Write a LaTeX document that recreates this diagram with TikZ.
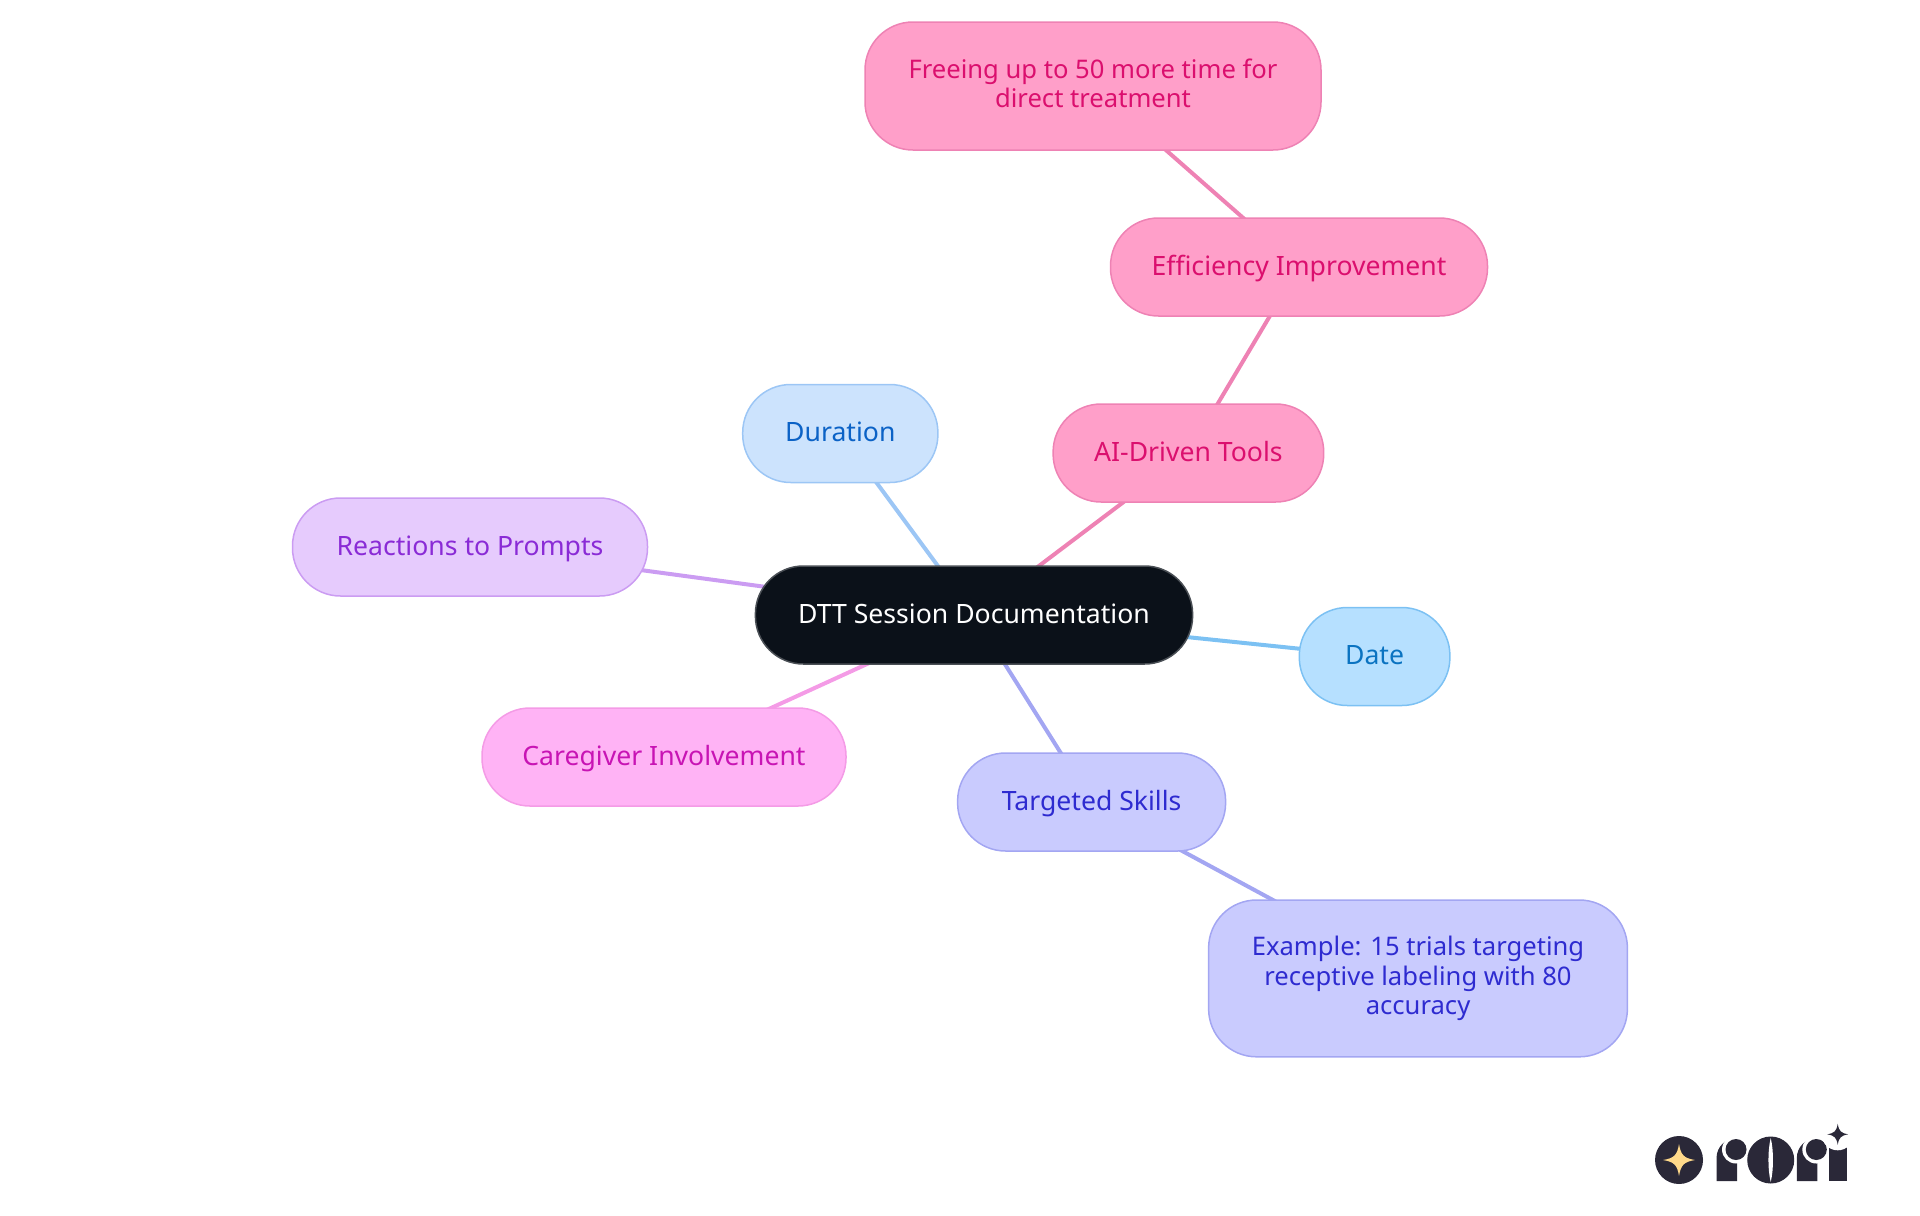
\documentclass[tikz,border=0pt]{standalone}
\usepackage{fontspec}
\setmainfont{Noto Sans}
\usetikzlibrary{backgrounds}
\definecolor{logoink}{HTML}{2A2838}
\definecolor{logostar}{HTML}{FFD98A}
\definecolor{rootfill}{HTML}{0B1119}
\definecolor{rootline}{HTML}{4A4F55}
\definecolor{pinkfill}{HTML}{FF9FC9}
\definecolor{pinkline}{HTML}{EE82B4}
\definecolor{pinktext}{HTML}{DB0F6E}
\definecolor{bluefill}{HTML}{CCE3FD}
\definecolor{blueline}{HTML}{9CC6F5}
\definecolor{bluetext}{HTML}{0B62C6}
\definecolor{skyfill}{HTML}{B6E0FF}
\definecolor{skyline}{HTML}{7CC1F3}
\definecolor{skytext}{HTML}{0A73C1}
\definecolor{purplefill}{HTML}{E6CBFD}
\definecolor{purpleline}{HTML}{CB9CF2}
\definecolor{purpletext}{HTML}{8A2BD6}
\definecolor{magentafill}{HTML}{FFB3F5}
\definecolor{magentaline}{HTML}{F49BE6}
\definecolor{magentatext}{HTML}{C814B4}
\definecolor{indigofill}{HTML}{C9CBFE}
\definecolor{indigoline}{HTML}{A3A6F2}
\definecolor{indigotext}{HTML}{2E2BD0}
\tikzset{
    mapnode/.style={draw, rounded corners=24pt, line width=0.75pt, inner sep=0pt, align=center, minimum height=49pt, text height=11pt, text depth=3pt, font=\fontsize{13.3}{14.6}\selectfont},
    longtext/.style={text height=, text depth=, font=\fontsize{12.8}{14.6}\selectfont},
    rootnode/.style={mapnode, fill=rootfill, draw=rootline, text=white},
    pinknode/.style={mapnode, fill=pinkfill, draw=pinkline, text=pinktext},
    bluenode/.style={mapnode, fill=bluefill, draw=blueline, text=bluetext},
    skynode/.style={mapnode, fill=skyfill, draw=skyline, text=skytext},
    purplenode/.style={mapnode, fill=purplefill, draw=purpleline, text=purpletext},
    magentanode/.style={mapnode, fill=magentafill, draw=magentaline, text=magentatext},
    indigonode/.style={mapnode, fill=indigofill, draw=indigoline, text=indigotext},
    link/.style={line width=2pt},
}
\newcommand{\sparkle}[3]{
    \fill [#3, shift={(#1)}, scale=#2] (0, -1) .. controls (0.12, -0.3) and (0.3, -0.12) .. (1, 0)
        .. controls (0.3, 0.12) and (0.12, 0.3) .. (0, 1)
        .. controls (-0.12, 0.3) and (-0.3, 0.12) .. (-1, 0)
        .. controls (-0.3, -0.12) and (-0.12, -0.3) .. cycle;
}
\newcommand{\logor}[1]{
    \begin{scope}[xshift=#1*0.5pt]
        \fill [logoink] (1716.5, 1181) -- (1716.5, 1158) arc (180:270:20) -- (1737, 1138) -- (1737, 1181) -- cycle;
        \fill [white] (1736, 1149.5) circle (14);
        \fill [logoink] (1736, 1149.5) circle (10.5);
    \end{scope}
}

\begin{document}
\begin{tikzpicture}[x=0.5pt, y=-0.5pt]
    \useasboundingbox (0, 0) rectangle (1920, 1215);

    \node [rootnode, minimum width=218.6pt] (root) at (974, 615) {DTT Session Documentation};
    \node [pinknode, minimum width=135.3pt] (tools) at (1188.4, 453) {AI-Driven Tools};
    \node [pinknode, minimum width=188.5pt] (efficiency) at (1299, 267) {Efficiency Improvement};
    \node [pinknode, longtext, minimum width=228pt, minimum height=64pt] (freeing) at (1093, 86) {Freeing up to 50 more time for\\direct treatment\\[-12.2pt]};
    \node [bluenode, minimum width=97.6pt] (duration) at (840.3, 433.5) {Duration};
    \node [purplenode, minimum width=177.5pt] (reactions) at (470, 547) {Reactions to Prompts};
    \node [skynode, minimum width=75.3pt] (date) at (1374.6, 656.5) {Date};
    \node [magentanode, minimum width=182pt] (caregiver) at (664, 757) {Caregiver Involvement};
    \node [indigonode, minimum width=134pt] (skills) at (1091.6, 802) {Targeted Skills};
    \node [indigonode, longtext, minimum width=209.4pt, minimum height=78.4pt] (example) at (1418, 978.4) {Example: 15 trials targeting\\receptive labeling with 80\\accuracy};

    \begin{scope}[on background layer]
        \draw [link, pinkline] (root.center) -- (tools.center);
        \draw [link, pinkline] (tools.center) -- (efficiency.center);
        \draw [link, pinkline] (efficiency.center) -- (freeing.center);
        \draw [link, blueline] (root.center) -- (duration.center);
        \draw [link, purpleline] (root.center) -- (reactions.center);
        \draw [link, skyline] (root.center) -- (date.center);
        \draw [link, magentaline] (root.center) -- (caregiver.center);
        \draw [link, indigoline] (root.center) -- (skills.center);
        \draw [link, indigoline] (skills.center) -- (example.center);
    \end{scope}

    % logo
    \fill [logoink] (1679, 1160) circle (24);
    \sparkle{1679, 1160}{16}{logostar}
    \logor{0}
    \fill [logoink] (1770.7, 1160) circle (23.5);
    \fill [white] (1770.7, 1138) .. controls (1767.7, 1150) and (1767.7, 1170) .. (1770.7, 1182)
        .. controls (1773.7, 1170) and (1773.7, 1150) .. cycle;
    \logor{80.3}
    \fill [logoink] (1828.7, 1181) -- (1828.7, 1145) -- (1846.7, 1145) -- (1846.7, 1181) -- cycle;
    \fill [white] (1837.7, 1134.3) circle (16);
    \sparkle{1837.7, 1134.3}{10.5}{logoink}
\end{tikzpicture}
\end{document}
